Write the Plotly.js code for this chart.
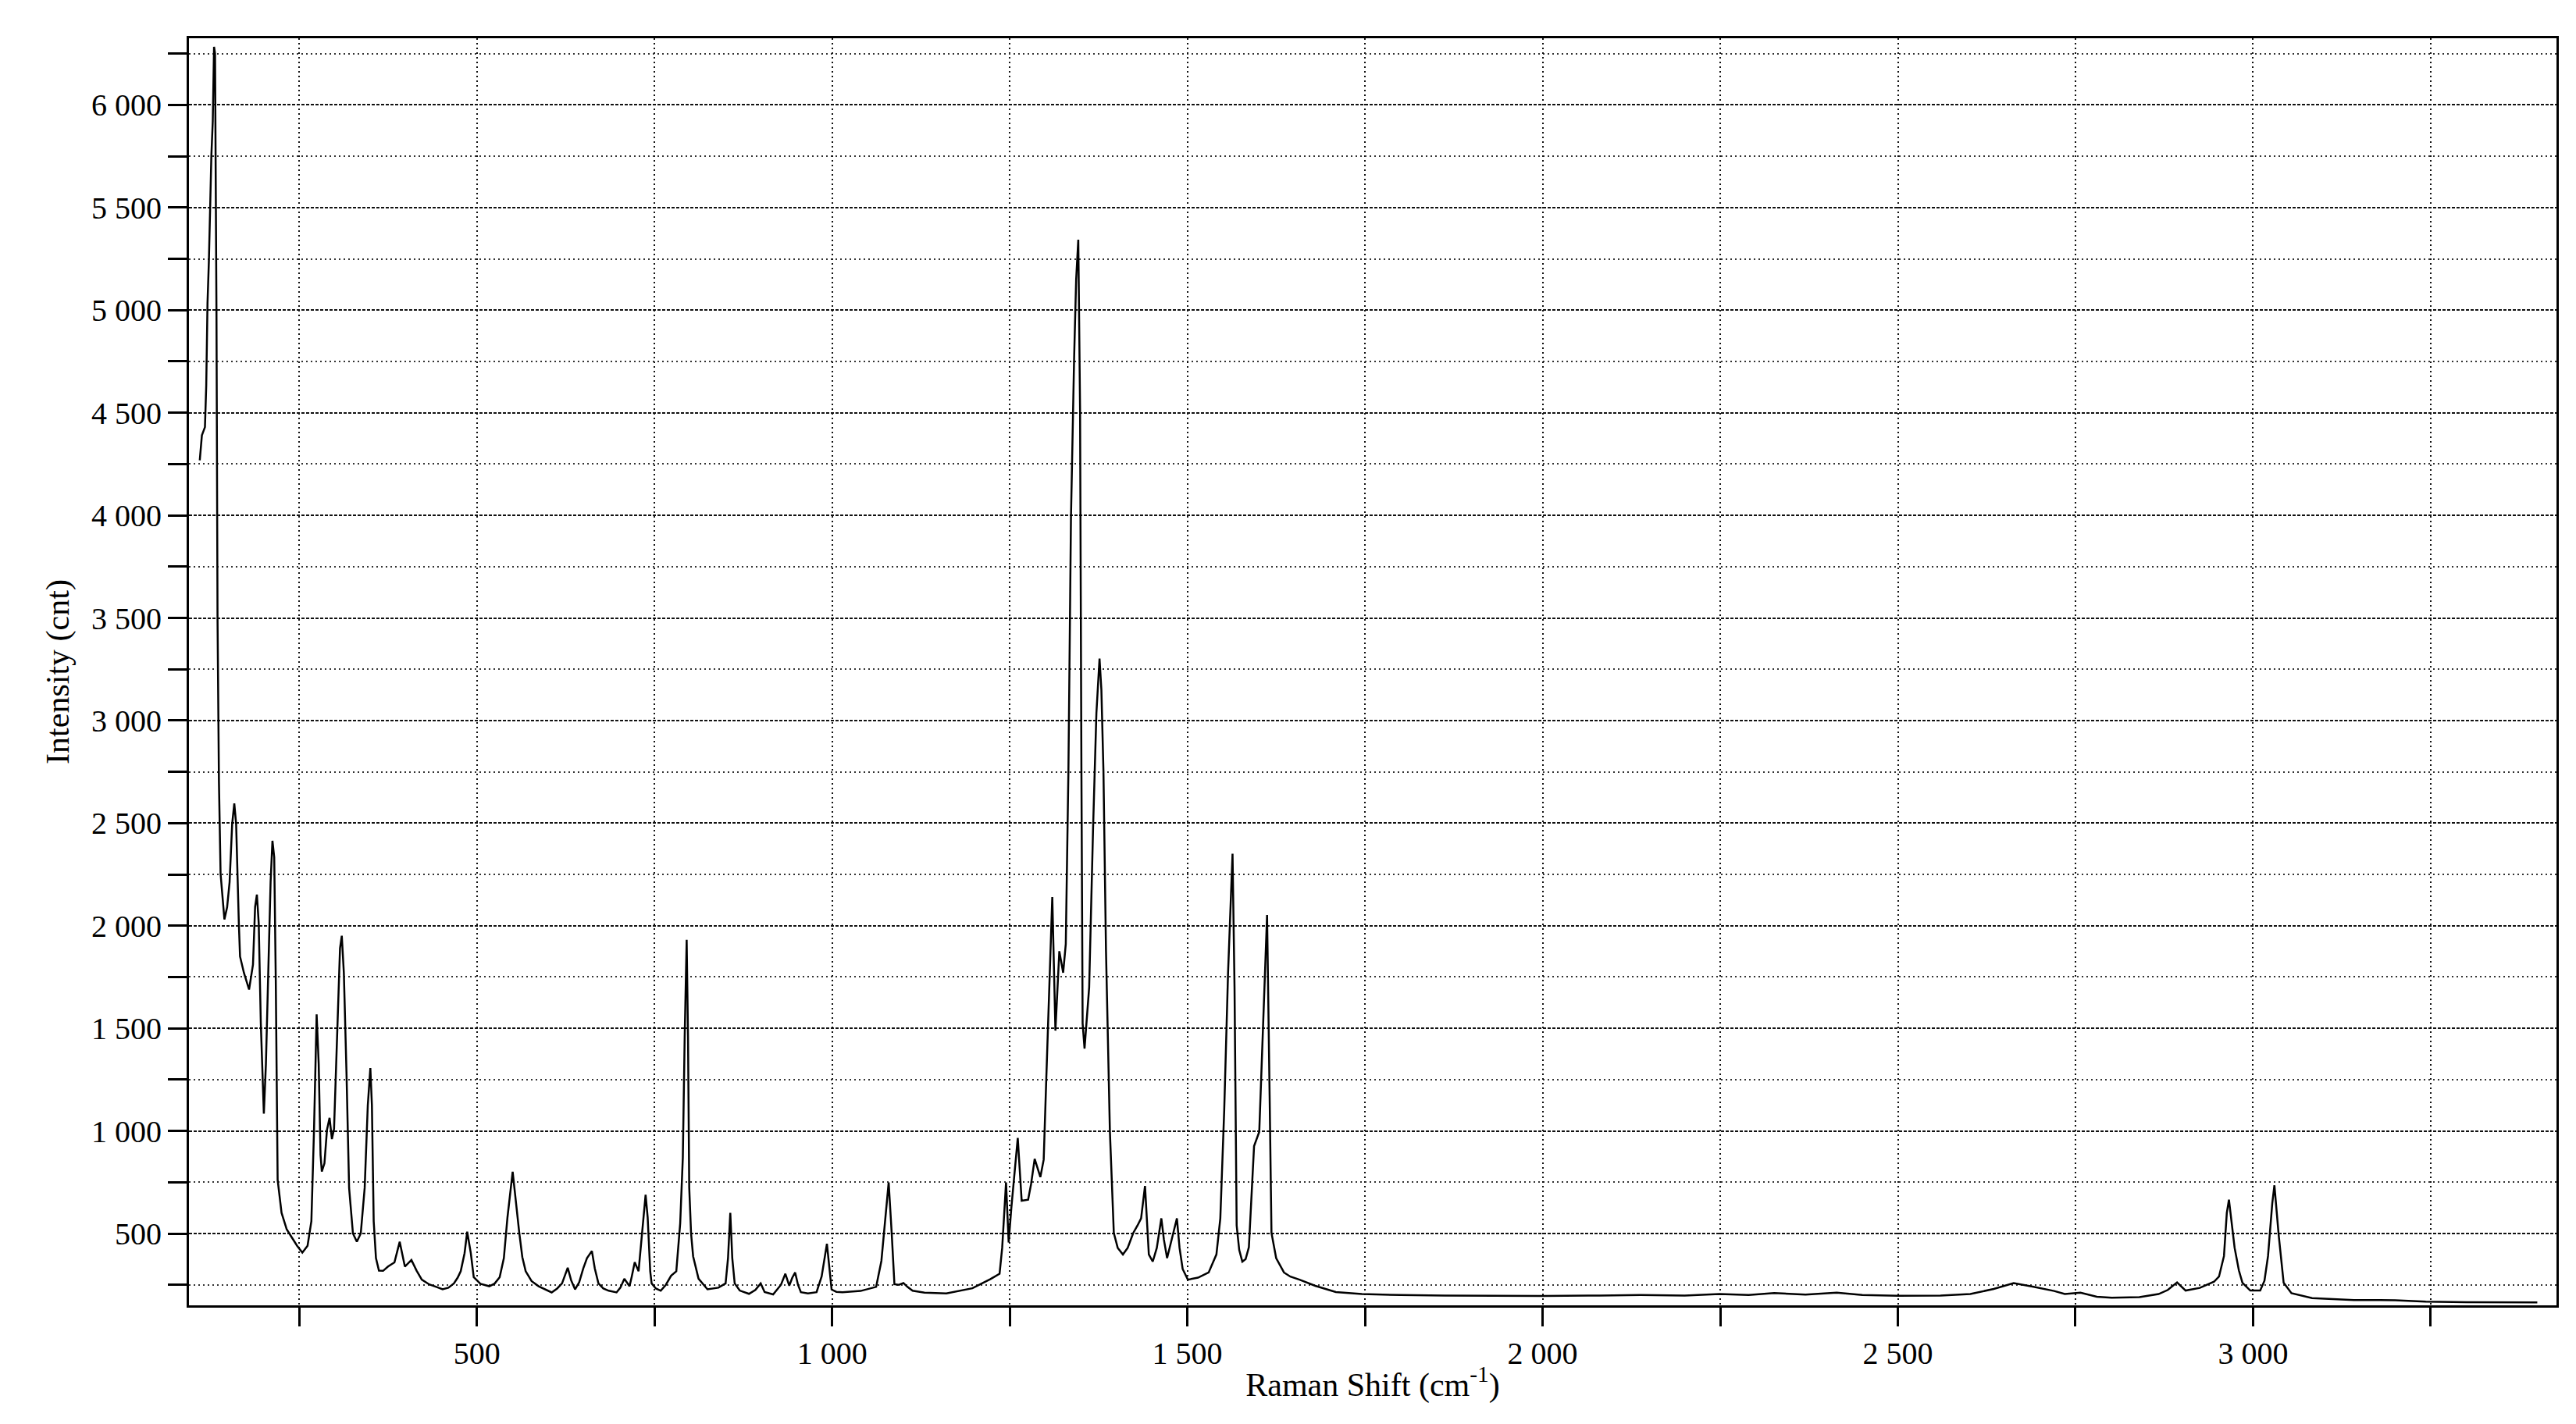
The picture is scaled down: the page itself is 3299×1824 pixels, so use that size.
<!DOCTYPE html>
<html>
<head>
<meta charset="utf-8">
<script src="https://cdn.plot.ly/plotly-3.0.1.min.js"></script>
<style>
  html, body { margin: 0; padding: 0; background: #fff; }
  #plot { width: 3299px; height: 1824px; }
</style>
</head>
<body>
<div id="plot"></div>
<script>
// Raman spectrum (shift in cm-1, intensity in counts)
let ramanShift = [
  110, 113, 117.3, 119.1, 120.9, 122.8, 126.4, 128.3, 130.1, 131.5, 133.5, 135, 137, 139.3,
  144.7, 148.5, 152, 155.6, 158.6, 161.2, 165, 166.7, 172.2, 179.4, 184.9, 187.9, 190.4,
  193, 195.9, 200.2, 203.1, 206.8, 209.7, 212.3, 214.8, 217, 219.6, 225.1, 232.4, 239.7,
  247, 254.4, 261.7, 267.1, 270.8, 274.5, 277.4, 280, 281.8, 285.5, 289, 292.7, 296, 299,
  303.7, 307.4, 309.9, 312.8, 316.5, 320.2, 325.6, 331.1, 336.6, 342.1, 346.5, 350.1,
  352.3, 354.8, 358, 362.2, 368, 375, 384, 391.4, 395, 398.7, 407.9, 415.2, 422.5, 433,
  444.4, 451.8, 460, 467.7, 473, 477.3, 482.7, 486.4, 491.5, 495.6, 505, 517.5, 525,
  532.1, 538, 543.1, 550.4, 554.8, 559.6, 564, 568.7, 577, 587, 605.3, 613, 619.9, 627.9,
  632.7, 638.2, 644, 649.8, 655, 661.9, 666, 671.1, 678, 685.6, 696.6, 702, 707.6, 714.9,
  718, 722.2, 727.6, 733, 737.5, 740.4, 744, 746, 752, 758.8, 766, 773.4, 780.7, 786.2,
  789.9, 792.5, 795.3, 797.2, 798.9, 801.5, 804.4, 812, 824.6, 840, 850.1, 853.5, 856.7,
  859.5, 862.9, 870, 883, 892, 899.5, 905, 917, 928, 934.2, 939.7, 944, 948, 952, 956.1,
  966, 978.1, 985.3, 992.7, 996, 999.3, 1006, 1014.6, 1040, 1055, 1062, 1069.4, 1074.9,
  1079.6, 1084, 1087.7, 1094, 1100.4, 1106, 1113.3, 1130, 1160.8, 1197.4, 1222.9, 1235.7,
  1239.4, 1244.8, 1248.5, 1252.2, 1257, 1261.3, 1266.8, 1275.9, 1280, 1285.1, 1293.1,
  1297.8, 1301.5, 1305.2, 1309.9, 1314.3, 1319.8, 1325.2, 1328.9, 1332.6, 1336.2, 1340.6,
  1343.5, 1346.5, 1349, 1350.9, 1352.6, 1355.3, 1361.8, 1367.3, 1372, 1376.4, 1379,
  1381.9, 1385.5, 1391, 1396.5, 1402, 1409.3, 1416, 1423.9, 1430, 1434.9, 1440.4, 1445.8,
  1451.3, 1457, 1463.4, 1467, 1471.5, 1478, 1485.3, 1489, 1493.4, 1500.7, 1515, 1530,
  1540.9, 1546.4, 1551.9, 1557.3, 1563.6, 1566.4, 1569.4, 1573, 1577.4, 1582, 1586.6,
  1593.9, 1601.2, 1606.7, 1612.2, 1615.8, 1618.4, 1625, 1636, 1645, 1657.9, 1680, 1709,
  1745.6, 1800, 1862, 1950, 2000, 2080, 2138, 2200, 2249, 2290, 2326, 2370, 2414, 2450,
  2500, 2560, 2602, 2635, 2663, 2691, 2720, 2735, 2757, 2780, 2801, 2840, 2867, 2880,
  2893, 2905, 2925, 2945, 2952, 2959, 2963, 2966, 2970, 2974, 2980, 2985, 2996, 3010,
  3016, 3021, 3027, 3030, 3036, 3043, 3054, 3083, 3142, 3200, 3243, 3300, 3400
];

let intensity = [
  4268, 4390, 4430, 4631, 5034, 5235, 5759, 5920, 6283, 6250, 5000, 3500, 2700, 2253,
  2031, 2090, 2213, 2495, 2596, 2495, 2011, 1850, 1770, 1689, 1810, 2092, 2152,
  2011, 1528, 1084, 1326, 1850, 2213, 2414, 2334, 1729, 762, 601, 520, 480,
  440, 407, 440, 560, 1004, 1568, 1326, 883, 802, 842, 1004, 1064, 960, 1010,
  1528, 1890, 1951, 1770, 1286, 722, 500, 460, 500, 722, 1125, 1306,
  1125, 560, 380, 319, 318, 339, 359, 460, 400, 339, 371, 319, 275, 252,
  238, 228, 236, 257, 285, 316, 404, 509, 404, 287, 255, 243, 256,
  287, 380, 579, 801, 652, 506, 385, 316, 268, 243, 213, 232, 257, 333,
  272, 228, 262, 330, 380, 415, 330, 257, 232, 221, 213, 236, 279, 243,
  290, 360, 316, 506, 689, 579, 316, 257, 232, 221, 250, 294, 316, 550,
  871, 1456, 1931, 1456, 725, 500, 389, 280, 228, 236, 257, 380, 601,
  380, 257, 222, 206, 225, 257, 215, 203, 250, 304, 246, 285, 310, 250, 214,
  208, 214, 291, 450, 330, 227, 216, 214, 220, 232, 240, 367, 558,
  749, 495, 253, 250, 259, 240, 221, 212, 208, 233, 278, 304,
  431, 749, 456, 622, 820, 966, 660, 665, 740, 864, 775,
  860, 1259, 1650, 2140, 1489, 1876, 1771, 1911, 2756, 3988, 4763,
  5150, 5343, 4516, 2756, 1524, 1401, 1700, 2475, 3038, 3302, 3150,
  2756, 1876, 996, 503, 430, 398, 430, 503, 540, 574, 732, 398,
  363, 430, 574, 470, 380, 470, 574, 430, 327, 275, 285, 310,
  398, 574, 1102, 1771, 2351, 1700, 539, 420, 363, 375, 433,
  926, 996, 1524, 2052, 1172, 503, 380, 310, 290, 275, 245, 215,
  205, 200, 198, 195, 196, 198, 200, 198, 205, 200, 210, 202, 212, 200,
  197, 198, 205, 230, 258, 240, 220, 205, 212, 192, 187, 190, 205, 225,
  262, 222, 235, 265, 290, 390, 600, 665, 545, 430, 320, 260, 222, 222,
  270, 390, 648, 735, 493, 260, 209, 185, 176, 175, 168, 165, 164
];

let xTicks = [500, 1000, 1500, 2000, 2500, 3000];
let yTicks = [500, 1000, 1500, 2000, 2500, 3000, 3500, 4000, 4500, 5000, 5500, 6000];

let spectrum = {
  x: ramanShift,
  y: intensity,
  type: 'scatter',
  mode: 'lines',
  line: { color: '#000', width: 2.5 },
  showlegend: false
};

let tickFont = { family: 'Liberation Serif, serif', size: 40, color: '#000' };
let titleFont = { family: 'Liberation Serif, serif', size: 42, color: '#000' };

let layout = {
  width: 3299,
  height: 1824,
  paper_bgcolor: '#fff',
  plot_bgcolor: '#fff',
  separators: '. ',
  font: { family: 'Liberation Serif, serif', color: '#000' },
  margin: { l: 242, r: 25, t: 49, b: 152, pad: 0 },
  xaxis: {
    range: [94.8, 3427],
    tickmode: 'array',
    tickvals: xTicks,
    tickformat: ',d',
    ticks: 'outside',
    ticklen: 24,
    tickwidth: 3,
    tickcolor: '#000',
    tickfont: tickFont,
    showline: true,
    linecolor: '#000',
    linewidth: 3,
    mirror: true,
    zeroline: false,
    showgrid: true,
    gridcolor: '#111',
    gridwidth: 2,
    griddash: '2px,4px',
    minor: {
      tick0: 0,
      dtick: 250,
      ticks: 'outside',
      ticklen: 24,
      tickwidth: 3,
      tickcolor: '#000',
      showgrid: true,
      gridcolor: '#111',
      gridwidth: 2,
      griddash: '2px,4px'
    },
    title: { text: 'Raman Shift (cm<sup>-1</sup>)', font: titleFont, standoff: 4 }
  },
  yaxis: {
    range: [150, 6325],
    tickmode: 'array',
    tickvals: yTicks,
    tickformat: ',d',
    ticks: 'outside',
    ticklen: 24,
    tickwidth: 3,
    tickcolor: '#000',
    tickfont: tickFont,
    showline: true,
    linecolor: '#000',
    linewidth: 3,
    mirror: true,
    zeroline: false,
    showgrid: true,
    gridcolor: '#111',
    gridwidth: 2,
    griddash: '4px,2px',
    minor: {
      tick0: 0,
      dtick: 250,
      ticks: 'outside',
      ticklen: 24,
      tickwidth: 3,
      tickcolor: '#000',
      showgrid: true,
      gridcolor: '#333',
      gridwidth: 2,
      griddash: '2px,4px'
    },
    title: { text: 'Intensity (cnt)', font: titleFont, standoff: 16 }
  }
};

Plotly.newPlot('plot', [spectrum], layout, { staticPlot: true });
</script>
</body>
</html>
